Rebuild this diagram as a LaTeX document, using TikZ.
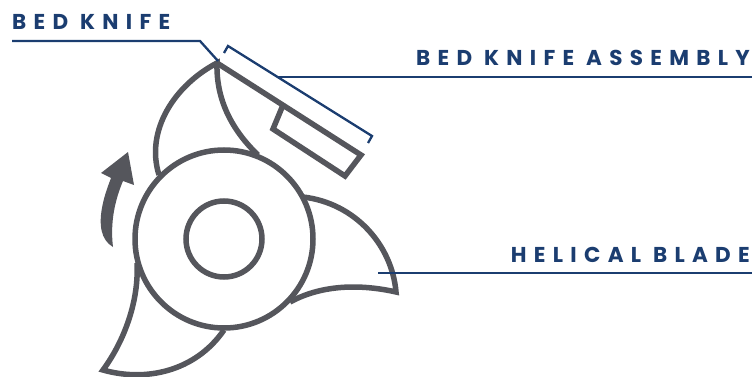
\documentclass[tikz,border=0pt]{standalone}
\usepackage{fontspec}
\setmainfont{Poppins}
\newfontfamily\lblfont[LetterSpace=34]{Poppins}
\usepackage{tikz}
\usepackage{xcolor}
\definecolor{bladegrey}{HTML}{55565C}
\definecolor{leadblue}{HTML}{1B3D70}

\begin{document}
\begin{tikzpicture}[x=1pt,y=-1pt,
        part/.style={draw=bladegrey,line width=5.5pt,line join=miter},
        hubc/.style={circle,draw=bladegrey,line width=5.5pt,inner sep=0pt,fill=white},
        lead/.style={draw=leadblue,line width=2.3pt},
        lbl/.style={font=\lblfont\bfseries\fontsize{21.5}{21.5}\selectfont,text=leadblue,inner sep=0pt}]
      \useasboundingbox (0,0) rectangle (752,377);
      % blades
      \draw[part] (159,175) .. controls (145,130) and (175,85) .. (217,63)
        .. controls (216,100) and (232,130) .. (258,155);
      \draw[part] (303,197) .. controls (355,203) and (392,245) .. (396,292)
        .. controls (365,285) and (325,283) .. (290,302);
      \draw[part] (137,263) .. controls (139,300) and (125,340) .. (103,370)
        .. controls (145,382) and (195,372) .. (224,330);
      % knife holder
      \draw[part] (217,63) -- (361,155) -- (345,176) -- (273,129) -- (283,105);
      \node[hubc,minimum size=178pt] (hub) at (224,239) {};
      \node[hubc,minimum size=76pt] (bore) at (224,239) {};
      % rotation arrow
      \fill[bladegrey] (128,152) -- (134,185) -- (123,181)
        .. controls (115,200) and (110,222) .. (113,247)
        .. controls (101,240) and (98,225) .. (103,203)
        .. controls (105,194) and (108,186) .. (111,178)
        -- (101,173) -- cycle;
      % labels
      \node[lbl,anchor=base west] (knife) at (12,30) {BED KNIFE};
      \node[lbl,anchor=base east] (assy) at (750,66) {BED KNIFE ASSEMBLY};
      \node[lbl,anchor=base east] (blade) at (750,262) {HELICAL BLADE};
      \coordinate (kn0) at (12,41);
      \coordinate (kn1) at (200,41);
      \coordinate (kn2) at (218,61);
      \coordinate (br0) at (224,53);
      \coordinate (br1) at (228,46);
      \coordinate (br2) at (372,136);
      \coordinate (br3) at (368,143);
      \coordinate (as0) at (278,77);
      \coordinate (as1) at (752,77);
      \coordinate (he0) at (378,273);
      \coordinate (he1) at (752,273);
      \draw[lead] (kn0) -- (kn1) -- (kn2);
      \draw[lead] (br0) -- (br1) -- (br2) -- (br3);
      \draw[lead] (as0) -- (as1);
      \draw[lead] (he0) -- (he1);
    \end{tikzpicture}
\end{document}
